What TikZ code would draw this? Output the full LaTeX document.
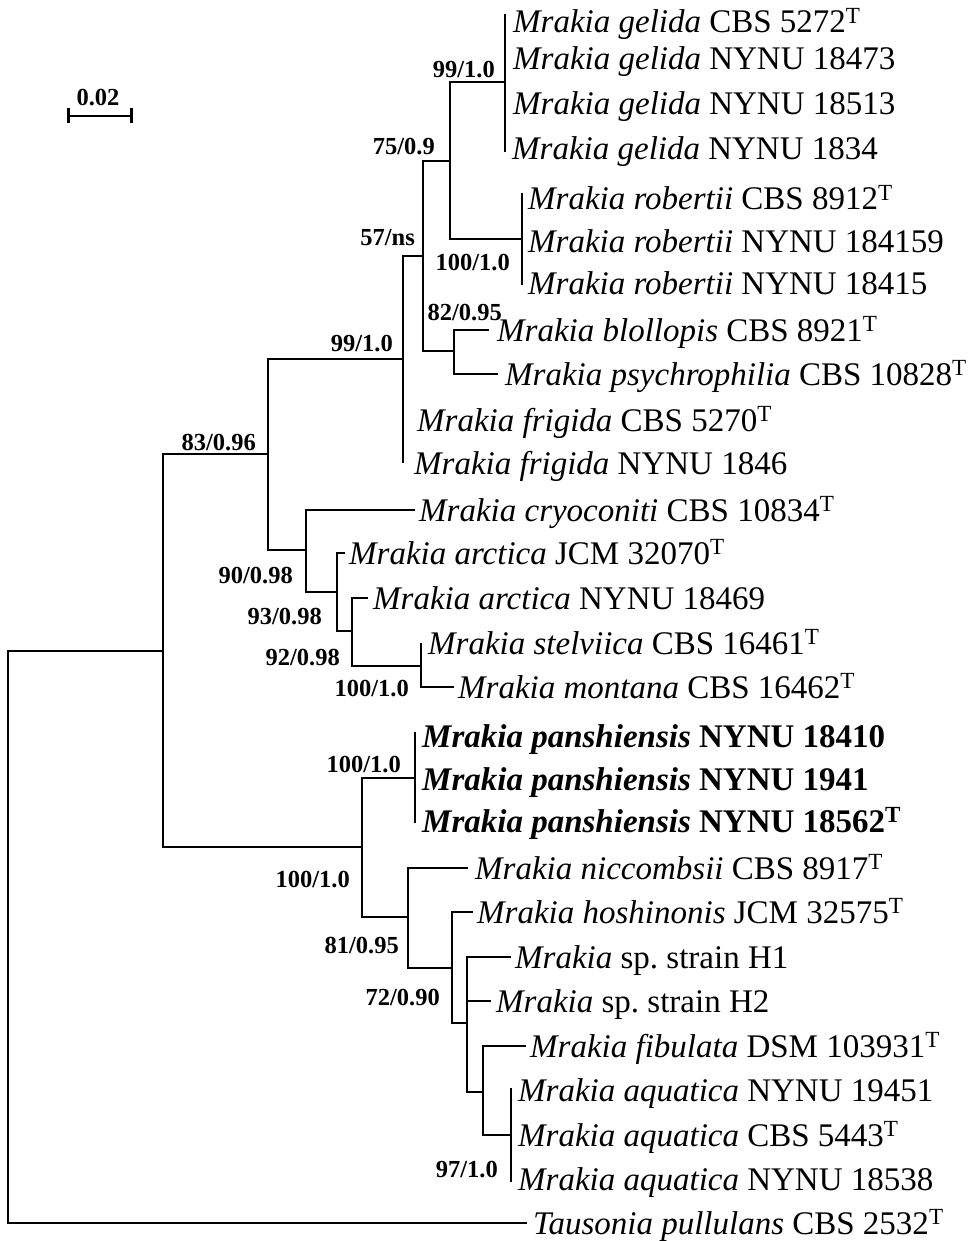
\documentclass[tikz,border=0pt]{standalone}
\usepackage{fontspec}
\setmainfont{Liberation Serif}
\usetikzlibrary{positioning,arrows.meta}

\begin{document}
\begin{tikzpicture}[
    x=1pt,y=-1pt,
    branch/.style = {line width=2.9pt,line join=miter},
    leaf/.style = {inner sep=0,anchor=west,text height=22pt,text depth=0pt,font=\fontsize{33}{37}\selectfont},
    boot/.style = {inner sep=0,anchor=base east,font=\fontsize{24.5}{28}\selectfont\bfseries}
  ]
  \useasboundingbox (0,0) rectangle (974,1241);

  % internal nodes
  \coordinate (root) at (8,651);
  \coordinate (ingroup) at (163,651);
  \coordinate (n83) at (268,454);
  \coordinate (n99) at (403,359);
  \coordinate (n57) at (423,256);
  \coordinate (n75) at (450,161);
  \coordinate (gel) at (505,82);
  \coordinate (rob) at (522,239);
  \coordinate (blo) at (454,351);
  \coordinate (n90) at (306,550);
  \coordinate (n93) at (337,592);
  \coordinate (n92) at (352,631);
  \coordinate (sm) at (421,666);
  \coordinate (n100) at (362,847);
  \coordinate (pan) at (415,778);
  \coordinate (n81) at (408,917);
  \coordinate (n72) at (452,968);
  \coordinate (hh) at (467,1023);
  \coordinate (fa) at (483,1092);
  \coordinate (aqu) at (511,1135);

  % tips
  \coordinate (gelTop) at (505,14);
  \coordinate (gelBot) at (505,152);
  \coordinate (g1) at (505,22);
  \coordinate (g2) at (505,59);
  \coordinate (g3) at (505,104);
  \coordinate (g4) at (505,149);
  \coordinate (robTop) at (522,193);
  \coordinate (robBot) at (522,285);
  \coordinate (r1) at (522,199);
  \coordinate (r2) at (522,242);
  \coordinate (r3) at (522,283);
  \coordinate (tBlo) at (489,330);
  \coordinate (tPsy) at (498,374);
  \coordinate (f1) at (403,420);
  \coordinate (f2) at (403,463);
  \coordinate (tCry) at (415,510);
  \coordinate (tArJ) at (345,553);
  \coordinate (tArN) at (368,598);
  \coordinate (tSte) at (421,643);
  \coordinate (tMon) at (454,687);
  \coordinate (panTop) at (415,732);
  \coordinate (panBot) at (415,823);
  \coordinate (p1) at (415,736);
  \coordinate (p2) at (415,779);
  \coordinate (p3) at (415,821);
  \coordinate (tNic) at (468,868);
  \coordinate (tHos) at (473,912);
  \coordinate (tH1) at (511,957);
  \coordinate (tH2) at (491,1001);
  \coordinate (tFib) at (526,1046);
  \coordinate (aquTop) at (511,1088);
  \coordinate (aquBot) at (511,1182);
  \coordinate (a1) at (511,1090);
  \coordinate (a2) at (511,1135);
  \coordinate (a3) at (511,1179);
  \coordinate (tTau) at (527,1223);

  % branches
  \draw[branch] (ingroup) -| (root) |- (tTau);
  \draw[branch] (n83) -| (ingroup) |- (n100);
  \draw[branch] (n99) -| (n83) |- (n90);
  \draw[branch] (n57) -| (n99) -- (f2);
  \draw[branch] (n75) -| (n57) |- (blo);
  \draw[branch] (gel) -| (n75) |- (rob);
  \draw[branch] (gelTop) -- (gelBot);
  \draw[branch] (robTop) -- (robBot);
  \draw[branch] (tBlo) -| (blo) |- (tPsy);
  \draw[branch] (tCry) -| (n90) |- (n93);
  \draw[branch] (tArJ) -| (n93) |- (n92);
  \draw[branch] (tArN) -| (n92) |- (sm);
  \draw[branch] (tSte) -- (sm) |- (tMon);
  \draw[branch] (pan) -| (n100) |- (n81);
  \draw[branch] (panTop) -- (panBot);
  \draw[branch] (tNic) -| (n81) |- (n72);
  \draw[branch] (tHos) -| (n72) |- (hh);
  \draw[branch] (tH1) -| (hh) |- (fa);
  \draw[branch] (hh) |- (tH2);
  \draw[branch] (tFib) -| (fa) |- (aqu);
  \draw[branch] (aquTop) -- (aquBot);

  % taxa
  \node[leaf,right=8pt of g1] (gel1) {\textit{Mrakia gelida} CBS 5272\textsuperscript{T}};
  \node[leaf,right=8pt of g2] (gel2) {\textit{Mrakia gelida} NYNU 18473};
  \node[leaf,right=8pt of g3] (gel3) {\textit{Mrakia gelida} NYNU 18513};
  \node[leaf,right=7pt of g4] (gel4) {\textit{Mrakia gelida} NYNU 1834};
  \node[leaf,right=6pt of r1] (rob1) {\textit{Mrakia robertii} CBS 8912\textsuperscript{T}};
  \node[leaf,right=6pt of r2] (rob2) {\textit{Mrakia robertii} NYNU 184159};
  \node[leaf,right=6pt of r3] (rob3) {\textit{Mrakia robertii} NYNU 18415};
  \node[leaf,right=8pt of tBlo] (bloL) {\textit{Mrakia blollopis} CBS 8921\textsuperscript{T}};
  \node[leaf,right=7pt of tPsy] (psyL) {\textit{Mrakia psychrophilia} CBS 10828\textsuperscript{T}};
  \node[leaf,right=14pt of f1] (fri1) {\textit{Mrakia frigida} CBS 5270\textsuperscript{T}};
  \node[leaf,right=11pt of f2] (fri2) {\textit{Mrakia frigida} NYNU 1846};
  \node[leaf,right=4pt of tCry] (cryL) {\textit{Mrakia cryoconiti} CBS 10834\textsuperscript{T}};
  \node[leaf,right=4pt of tArJ] (arc1) {\textit{Mrakia arctica} JCM 32070\textsuperscript{T}};
  \node[leaf,right=5pt of tArN] (arc2) {\textit{Mrakia arctica} NYNU 18469};
  \node[leaf,right=7pt of tSte] (steL) {\textit{Mrakia stelviica} CBS 16461\textsuperscript{T}};
  \node[leaf,right=4pt of tMon] (monL) {\textit{Mrakia montana} CBS 16462\textsuperscript{T}};
  \node[leaf,right=7pt of p1] (pan1) {\textbf{\textit{Mrakia panshiensis} NYNU 18410}};
  \node[leaf,right=7pt of p2] (pan2) {\textbf{\textit{Mrakia panshiensis} NYNU 1941}};
  \node[leaf,right=7pt of p3] (pan3) {\textbf{\textit{Mrakia panshiensis} NYNU 18562\textsuperscript{T}}};
  \node[leaf,right=7pt of tNic] (nicL) {\textit{Mrakia niccombsii} CBS 8917\textsuperscript{T}};
  \node[leaf,right=4pt of tHos] (hosL) {\textit{Mrakia hoshinonis} JCM 32575\textsuperscript{T}};
  \node[leaf,right=4pt of tH1] (h1L) {\textit{Mrakia} sp.\ strain H1};
  \node[leaf,right=5pt of tH2] (h2L) {\textit{Mrakia} sp.\ strain H2};
  \node[leaf,right=4pt of tFib] (fibL) {\textit{Mrakia fibulata} DSM 103931\textsuperscript{T}};
  \node[leaf,right=7pt of a1] (aqu1) {\textit{Mrakia aquatica} NYNU 19451};
  \node[leaf,right=7pt of a2] (aqu2) {\textit{Mrakia aquatica} CBS 5443\textsuperscript{T}};
  \node[leaf,right=7pt of a3] (aqu3) {\textit{Mrakia aquatica} NYNU 18538};
  \node[leaf,right=6pt of tTau] (tauL) {\textit{Tausonia pullulans} CBS 2532\textsuperscript{T}};

  % support values
  \node[boot] (sGel) at (495,78) {99/1.0};
  \node[boot] (s75) at (435,155) {75/0.9};
  \node[boot] (s57) at (415,245) {57/ns};
  \node[boot] (sRob) at (510,270) {100/1.0};
  \node[boot] (sBlo) at (502,320) {82/0.95};
  \node[boot] (s99) at (393,351) {99/1.0};
  \node[boot] (s83) at (256,450) {83/0.96};
  \node[boot] (s90) at (293,583) {90/0.98};
  \node[boot] (s93) at (322,624) {93/0.98};
  \node[boot] (s92) at (340,665) {92/0.98};
  \node[boot] (sSm) at (409,696) {100/1.0};
  \node[boot] (sPan) at (401,772) {100/1.0};
  \node[boot] (s100) at (350,887) {100/1.0};
  \node[boot] (s81) at (399,953) {81/0.95};
  \node[boot] (s72) at (440,1005) {72/0.90};
  \node[boot] (sAqu) at (498,1177) {97/1.0};

  % scale bar
  \coordinate (barL) at (67,116);
  \coordinate (barR) at (133,116);
  \draw[line width=2.6pt,{Bar[width=15pt]}-{Bar[width=15pt]}] (barL) -- (barR);
  \node[boot,anchor=base] (scale) at (98,106) {0.02};
\end{tikzpicture}
\end{document}
